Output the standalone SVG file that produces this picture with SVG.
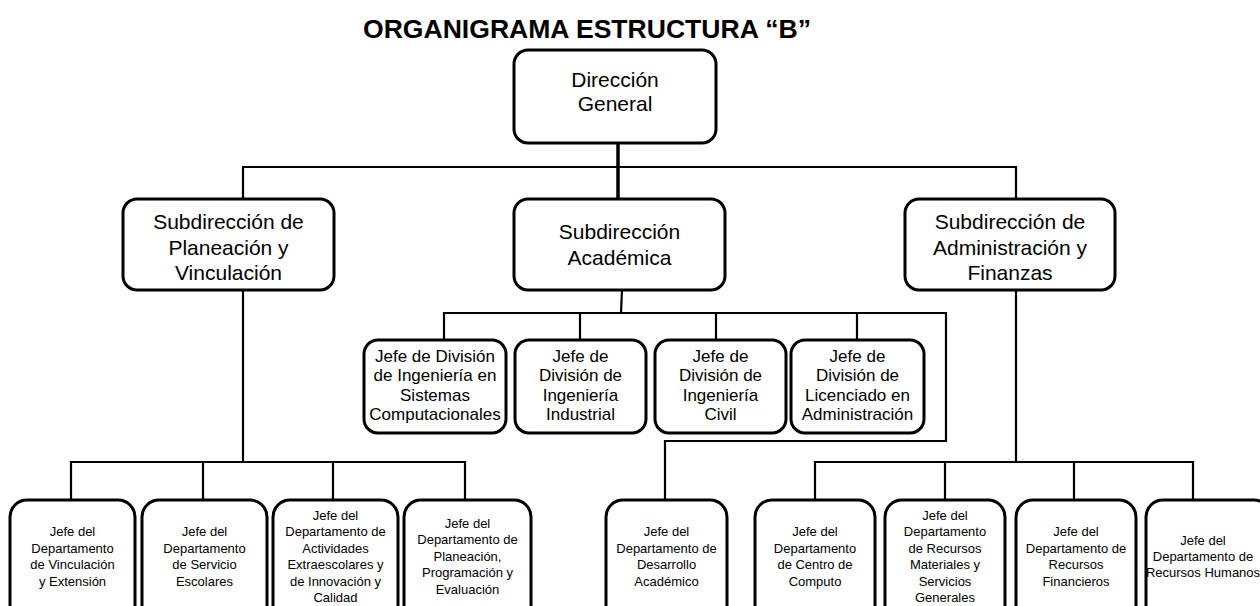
<svg xmlns="http://www.w3.org/2000/svg" width="1260" height="606" viewBox="0 0 1260 606">
<style>
.bx{fill:#fff;stroke:#000;stroke-width:3}
.c{fill:none;stroke:#000;stroke-width:2.2}
.t{font-family:"Liberation Sans",Arial,sans-serif;fill:#000;text-anchor:middle}
.l{font-size:21px}
.m{font-size:17px}
.s{font-size:13px}
.title{font-family:"Liberation Sans",Arial,sans-serif;font-weight:bold;font-size:25px;text-anchor:middle;fill:#000}
</style>
<rect width="1260" height="606" fill="#fff"/>
<text class="title" x="587" y="38" textLength="448" lengthAdjust="spacingAndGlyphs">ORGANIGRAMA ESTRUCTURA “B”</text>
<g id="connectors">
<path class="c" d="M618 143 V199" style="stroke-width:3.5"/>
<path class="c" d="M243 199 V167 H1016 V199"/>
<path class="c" d="M243 290 V462"/>
<path class="c" d="M71 500 V462 H465 V500 M203 462 V500 M333 462 V500"/>
<path class="c" d="M622 290 L621 313"/>
<path class="c" d="M444 340 V313 H946 V441 H665 V500 M580 313 V340 M716 313 V340 M857 313 V340"/>
<path class="c" d="M1016 290 V462"/>
<path class="c" d="M815 500 V462 H1193 V500 M945 462 V500 M1074 462 V500"/>
</g>
<g id="n-dg"><rect class="bx" x="514" y="50" width="202" height="93" rx="14"/>
<text class="t l" x="615" y="87">Dirección</text><text class="t l" x="615" y="111">General</text></g>
<g id="n-spv"><rect class="bx" x="123" y="199" width="211" height="91" rx="14"/>
<text class="t l" x="228.5" y="229">Subdirección de</text><text class="t l" x="228.5" y="255">Planeación y</text><text class="t l" x="228.5" y="280">Vinculación</text></g>
<g id="n-sa"><rect class="bx" x="514" y="199" width="211" height="91" rx="14"/>
<text class="t l" x="619.5" y="239">Subdirección</text><text class="t l" x="619.5" y="265">Académica</text></g>
<g id="n-saf"><rect class="bx" x="905" y="199" width="210" height="91" rx="14"/>
<text class="t l" x="1010" y="229">Subdirección de</text><text class="t l" x="1010" y="255">Administración y</text><text class="t l" x="1010" y="280">Finanzas</text></g>
<g id="n-disc"><rect class="bx" x="364" y="340" width="142" height="93" rx="14"/>
<text class="t m" x="435" y="362">Jefe de División</text><text class="t m" x="435" y="381">de Ingeniería en</text><text class="t m" x="435" y="401">Sistemas</text><text class="t m" x="435" y="420">Computacionales</text></g>
<g id="n-dii"><rect class="bx" x="515" y="340" width="131" height="93" rx="14"/>
<text class="t m" x="580.5" y="362">Jefe de</text><text class="t m" x="580.5" y="381">División de</text><text class="t m" x="580.5" y="401">Ingeniería</text><text class="t m" x="580.5" y="420">Industrial</text></g>
<g id="n-dic"><rect class="bx" x="655" y="340" width="131" height="93" rx="14"/>
<text class="t m" x="720.5" y="362">Jefe de</text><text class="t m" x="720.5" y="381">División de</text><text class="t m" x="720.5" y="401">Ingeniería</text><text class="t m" x="720.5" y="420">Civil</text></g>
<g id="n-dla"><rect class="bx" x="791" y="340" width="133" height="93" rx="14"/>
<text class="t m" x="857.5" y="362">Jefe de</text><text class="t m" x="857.5" y="381">División de</text><text class="t m" x="857.5" y="401">Licenciado en</text><text class="t m" x="857.5" y="420">Administración</text></g>
<g id="n-dve"><rect class="bx" x="10" y="500" width="125" height="125" rx="17"/>
<text class="t s" x="72.5" y="536">Jefe del</text><text class="t s" x="72.5" y="553">Departamento</text><text class="t s" x="72.5" y="569">de Vinculación</text><text class="t s" x="72.5" y="586">y Extensión</text></g>
<g id="n-dse"><rect class="bx" x="142" y="500" width="125" height="125" rx="17"/>
<text class="t s" x="204.5" y="536">Jefe del</text><text class="t s" x="204.5" y="553">Departamento</text><text class="t s" x="204.5" y="569">de Servicio</text><text class="t s" x="204.5" y="586">Escolares</text></g>
<g id="n-dae"><rect class="bx" x="273" y="500" width="125" height="125" rx="17"/>
<text class="t s" x="335.5" y="520">Jefe del</text><text class="t s" x="335.5" y="536">Departamento de</text><text class="t s" x="335.5" y="553">Actividades</text><text class="t s" x="335.5" y="569">Extraescolares y</text><text class="t s" x="335.5" y="586">de Innovación y</text><text class="t s" x="335.5" y="602">Calidad</text></g>
<g id="n-dpp"><rect class="bx" x="404" y="500" width="127" height="125" rx="17"/>
<text class="t s" x="467.5" y="528">Jefe del</text><text class="t s" x="467.5" y="544">Departamento de</text><text class="t s" x="467.5" y="561">Planeación,</text><text class="t s" x="467.5" y="577">Programación y</text><text class="t s" x="467.5" y="594">Evaluación</text></g>
<g id="n-dda"><rect class="bx" x="606" y="500" width="121" height="125" rx="17"/>
<text class="t s" x="666.5" y="536">Jefe del</text><text class="t s" x="666.5" y="553">Departamento de</text><text class="t s" x="666.5" y="569">Desarrollo</text><text class="t s" x="666.5" y="586">Académico</text></g>
<g id="n-dcc"><rect class="bx" x="755" y="500" width="120" height="125" rx="17"/>
<text class="t s" x="815" y="536">Jefe del</text><text class="t s" x="815" y="553">Departamento</text><text class="t s" x="815" y="569">de Centro de</text><text class="t s" x="815" y="586">Computo</text></g>
<g id="n-drm"><rect class="bx" x="885" y="500" width="120" height="125" rx="17"/>
<text class="t s" x="945" y="520">Jefe del</text><text class="t s" x="945" y="536">Departamento</text><text class="t s" x="945" y="553">de Recursos</text><text class="t s" x="945" y="569">Materiales y</text><text class="t s" x="945" y="586">Servicios</text><text class="t s" x="945" y="602">Generales</text></g>
<g id="n-drf"><rect class="bx" x="1016" y="500" width="120" height="125" rx="17"/>
<text class="t s" x="1076" y="536">Jefe del</text><text class="t s" x="1076" y="553">Departamento de</text><text class="t s" x="1076" y="569">Recursos</text><text class="t s" x="1076" y="586">Financieros</text></g>
<g id="n-drh"><rect class="bx" x="1146" y="500" width="125" height="125" rx="17"/>
<text class="t s" x="1203" y="545">Jefe del</text><text class="t s" x="1203" y="561">Departamento de</text><text class="t s" x="1203" y="577">Recursos Humanos</text></g>
</svg>
